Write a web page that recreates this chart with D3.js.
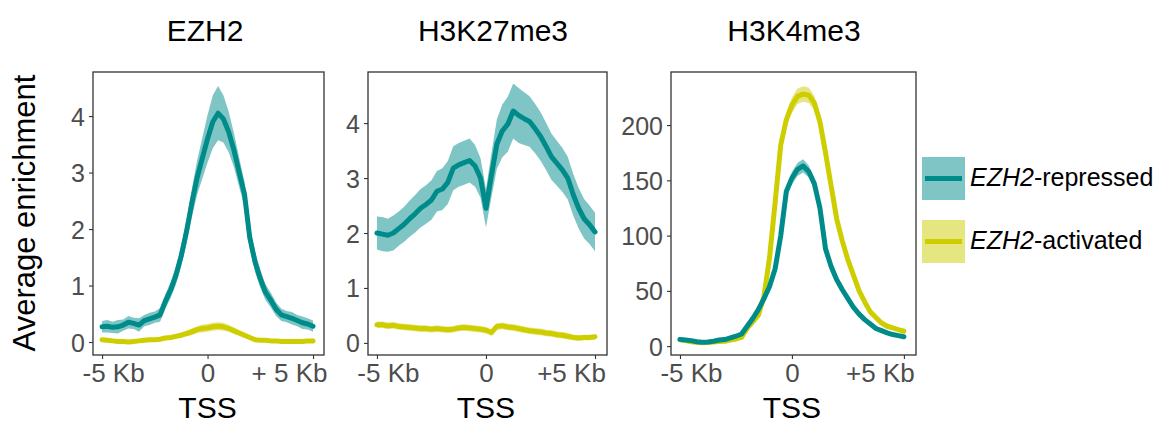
<!DOCTYPE html>
<html>
<head>
<meta charset="utf-8">
<script src="https://cdn.jsdelivr.net/npm/d3@7"></script>
<style>
  body { margin: 0; background: #fff; }
  svg { display: block; font-family: "Liberation Sans", Arial, sans-serif; }
</style>
</head>
<body>
<svg id="chart"></svg>
<script>
const WIDTH = 1167;
const HEIGHT = 424;

// Position relative to the TSS, in kb
const positions = [-5, -4.75, -4.5, -4.25, -4, -3.75, -3.5, -3.25, -3, -2.75, -2.5, -2.25, -2, -1.75, -1.5, -1.25, -1, -0.75, -0.5, -0.25,
  0, 0.25, 0.5, 0.75, 1, 1.25, 1.5, 1.75, 2, 2.25, 2.5, 2.75, 3, 3.25, 3.5, 3.75, 4, 4.25, 4.5, 4.75, 5];

const panelTitles = ["EZH2", "H3K27me3", "H3K4me3"];
const seriesNames = ["EZH2-repressed", "EZH2-activated"];
const xTickValues = [-5, 0, 5];
const xTickLabels = [
  ["-5 Kb", "0", "+ 5 Kb"],
  ["-5 Kb", "0", "+5 Kb"],
  ["-5 Kb", "0", "+5 Kb"]
];
const yTickValues = [
  [0, 1, 2, 3, 4],
  [0, 1, 2, 3, 4],
  [0, 50, 100, 150, 200]
];

// EZH2
const ezh2Repressed = [0.27, 0.28, 0.26, 0.27, 0.30, 0.35, 0.33, 0.30, 0.38, 0.41, 0.44, 0.48, 0.72, 0.92, 1.18, 1.52, 1.95, 2.45, 2.9, 3.25,
  3.6, 3.9, 4.05, 3.95, 3.72, 3.4, 3.0, 2.62, 1.85, 1.42, 1.12, 0.88, 0.74, 0.58, 0.48, 0.45, 0.42, 0.38, 0.34, 0.32, 0.28];
const ezh2RepressedSe = [0.1, 0.11, 0.1, 0.12, 0.1, 0.11, 0.1, 0.12, 0.1, 0.11, 0.1, 0.12, 0.13, 0.14, 0.16, 0.18, 0.2, 0.25, 0.3, 0.36,
  0.42, 0.47, 0.48, 0.42, 0.36, 0.3, 0.26, 0.22, 0.2, 0.18, 0.16, 0.14, 0.13, 0.12, 0.11, 0.1, 0.11, 0.1, 0.11, 0.1, 0.1];
const ezh2Activated = [0.04, 0.03, 0.02, 0.01, 0.01, 0.0, 0.01, 0.02, 0.03, 0.04, 0.04, 0.05, 0.07, 0.08, 0.1, 0.12, 0.15, 0.18, 0.22, 0.24,
  0.25, 0.27, 0.28, 0.27, 0.24, 0.2, 0.16, 0.12, 0.08, 0.04, 0.03, 0.03, 0.02, 0.02, 0.01, 0.01, 0.01, 0.01, 0.01, 0.02, 0.02];
const ezh2ActivatedSe = [0.03, 0.03, 0.03, 0.03, 0.03, 0.03, 0.03, 0.03, 0.03, 0.03, 0.03, 0.03, 0.03, 0.04, 0.04, 0.05, 0.05, 0.06, 0.06, 0.07,
  0.07, 0.07, 0.07, 0.07, 0.06, 0.06, 0.05, 0.05, 0.04, 0.04, 0.03, 0.03, 0.03, 0.03, 0.03, 0.03, 0.03, 0.03, 0.03, 0.03, 0.03];

// H3K27me3
const k27Repressed = [2.0, 1.98, 1.96, 2.0, 2.08, 2.16, 2.26, 2.35, 2.45, 2.52, 2.6, 2.76, 2.8, 2.92, 3.18, 3.24, 3.28, 3.32, 3.22, 3.0,
  2.45, 3.05, 3.62, 3.86, 3.98, 4.22, 4.14, 4.08, 4.03, 3.9, 3.76, 3.58, 3.39, 3.27, 3.15, 3.0, 2.7, 2.45, 2.26, 2.15, 2.02];
const k27RepressedSe = [0.3, 0.31, 0.3, 0.32, 0.31, 0.32, 0.33, 0.34, 0.35, 0.35, 0.36, 0.37, 0.38, 0.39, 0.4, 0.4, 0.4, 0.4, 0.38, 0.36,
  0.35, 0.4, 0.45, 0.48, 0.5, 0.5, 0.5, 0.48, 0.46, 0.45, 0.44, 0.43, 0.42, 0.41, 0.4, 0.39, 0.38, 0.37, 0.36, 0.35, 0.35];
const k27Activated = [0.33, 0.33, 0.31, 0.32, 0.3, 0.29, 0.28, 0.27, 0.26, 0.26, 0.25, 0.26, 0.25, 0.24, 0.25, 0.27, 0.28, 0.27, 0.26, 0.25,
  0.23, 0.19, 0.3, 0.31, 0.29, 0.28, 0.26, 0.24, 0.22, 0.21, 0.2, 0.18, 0.17, 0.15, 0.14, 0.12, 0.1, 0.09, 0.1, 0.1, 0.11];
const k27ActivatedSe = [0.06, 0.06, 0.06, 0.06, 0.06, 0.06, 0.06, 0.06, 0.06, 0.06, 0.06, 0.06, 0.06, 0.06, 0.06, 0.06, 0.06, 0.06, 0.06, 0.06,
  0.06, 0.06, 0.06, 0.06, 0.06, 0.06, 0.06, 0.06, 0.06, 0.06, 0.06, 0.06, 0.06, 0.06, 0.06, 0.06, 0.05, 0.05, 0.05, 0.05, 0.05];

// H3K4me3
const k4Repressed = [6, 5.5, 5, 4, 3.6, 3.8, 4.5, 5.5, 6, 7.5, 9, 11, 18, 25, 33, 43, 54, 70, 100, 140,
  152, 160, 163, 158, 147, 125, 88, 72, 60, 51, 43, 35, 29, 24, 20, 16, 14, 12, 10.5, 9.5, 8.5];
const k4RepressedSe = [1.5, 1.5, 1.5, 1.5, 1.5, 1.5, 1.5, 1.5, 1.5, 1.5, 1.5, 1.5, 1.8, 2, 2.2, 2.5, 3, 3.5, 4, 5,
  5.5, 6, 6, 5.5, 5, 4.5, 3.5, 3, 2.5, 2.2, 2, 2, 1.8, 1.8, 1.5, 1.5, 1.5, 1.5, 1.5, 1.5, 1.5];
const k4Activated = [6, 5, 4, 3.5, 3, 3.2, 3.8, 4.2, 4.5, 5.5, 6.5, 8, 16, 22, 28, 45, 80, 130, 182, 205,
  218, 226, 228, 227, 220, 203, 175, 145, 115, 95, 78, 64, 50, 40, 31, 26, 21, 18, 16.5, 15, 13.5];
const k4ActivatedSe = [1.5, 1.5, 1.5, 1.5, 1.5, 1.5, 1.5, 1.5, 1.5, 1.5, 1.5, 1.5, 1.8, 2, 2.2, 3, 4, 5, 6, 6.5,
  7, 7, 7, 7, 6.5, 6, 5, 4.5, 4, 3.5, 3, 2.5, 2.2, 2, 2, 2, 2, 1.8, 1.8, 1.5, 1.5];

const panelSeries = [
  [[ezh2Repressed, ezh2RepressedSe], [ezh2Activated, ezh2ActivatedSe]],
  [[k27Repressed, k27RepressedSe], [k27Activated, k27ActivatedSe]],
  [[k4Repressed, k4RepressedSe], [k4Activated, k4ActivatedSe]]
];

const lineColors = ["#008B8B", "#CDCD00"];
const fillColors = ["#80C5C5", "#E6E680"];

// Panel boxes (pixels) and domains
const panels = [
  { left: 93, right: 324, xDomain: [-5.43, 5.52], yDomain: [-0.23, 4.78], titleX: 205 },
  { left: 368, right: 607, xDomain: [-5.41, 5.55], yDomain: [-0.22, 4.93], titleX: 493 },
  { left: 671, right: 916, xDomain: [-5.4, 5.54], yDomain: [-8, 248], titleX: 794 }
];
const TOP = 72;
const BOTTOM = 355;
const xLabelShift = [11, 0, -24];

const svg = d3.select("#chart").attr("width", WIDTH).attr("height", HEIGHT);

panels.forEach((p, i) => {
  const x = d3.scaleLinear().domain(p.xDomain).range([p.left, p.right]);
  const y = d3.scaleLinear().domain(p.yDomain).range([BOTTOM, TOP]);
  const g = svg.append("g");

  const area = d3.area()
    .x((d, j) => x(positions[j]))
    .y0(d => y(d[0] - d[1]))
    .y1(d => y(d[0] + d[1]));
  const line = d3.line()
    .x((d, j) => x(positions[j]))
    .y(d => y(d));

  // ribbons first, then activated line, then repressed line on top
  [1, 0].forEach(s => {
    const [mean, se] = panelSeries[i][s];
    g.append("path")
      .datum(mean.map((m, j) => [m, se[j]]))
      .attr("d", area)
      .attr("fill", fillColors[s]);
  });
  [1, 0].forEach(s => {
    g.append("path")
      .datum(panelSeries[i][s][0])
      .attr("d", line)
      .attr("fill", "none")
      .attr("stroke", lineColors[s])
      .attr("stroke-width", 5)
      .attr("stroke-linejoin", "round")
      .attr("stroke-linecap", "round");
  });

  // frame
  g.append("rect")
    .attr("x", p.left).attr("y", TOP)
    .attr("width", p.right - p.left).attr("height", BOTTOM - TOP)
    .attr("fill", "none").attr("stroke", "#333").attr("stroke-width", 1.3);

  // y axis
  const yAxis = g.append("g")
    .attr("transform", `translate(${p.left},0)`)
    .call(d3.axisLeft(y).tickValues(yTickValues[i]).tickSize(4).tickPadding(4)
      .tickFormat(d3.format("d")));
  yAxis.select(".domain").remove();
  yAxis.selectAll(".tick line").attr("stroke", "#333").attr("stroke-width", 1.1);
  yAxis.selectAll(".tick text")
    .attr("fill", "#4D4D4D").attr("font-size", 25)
    .attr("font-family", "Liberation Sans, Arial, sans-serif")
    .attr("dy", "0.36em");

  // x axis
  const xAxis = g.append("g")
    .attr("transform", `translate(0,${BOTTOM})`)
    .call(d3.axisBottom(x).tickValues(xTickValues).tickSize(4).tickPadding(4)
      .tickFormat((d, j) => xTickLabels[i][j]));
  xAxis.select(".domain").remove();
  xAxis.selectAll(".tick line").attr("stroke", "#333").attr("stroke-width", 1.1);
  xAxis.selectAll(".tick text")
    .attr("fill", "#4D4D4D").attr("font-size", 26)
    .attr("font-family", "Liberation Sans, Arial, sans-serif")
    .attr("y", 27).attr("dy", 0)
    .attr("dx", (d, j) => xLabelShift[j]);

  // titles
  svg.append("text")
    .attr("x", p.titleX).attr("y", 41)
    .attr("text-anchor", "middle")
    .attr("font-size", 30)
    .text(panelTitles[i]);
  svg.append("text")
    .attr("x", x(0)).attr("y", 418)
    .attr("text-anchor", "middle")
    .attr("font-size", 30)
    .text("TSS");
});

svg.append("text")
  .attr("transform", "translate(35,213) rotate(-90)")
  .attr("text-anchor", "middle")
  .attr("font-size", 31)
  .text("Average enrichment");

// legend
const legend = svg.append("g");
const legendTops = [157, 220];
seriesNames.forEach((name, s) => {
  const top = legendTops[s];
  legend.append("rect")
    .attr("x", 922).attr("y", top).attr("width", 43).attr("height", 43)
    .attr("fill", fillColors[s]);
  legend.append("line")
    .attr("x1", 925).attr("x2", 962)
    .attr("y1", top + 21.5).attr("y2", top + 21.5)
    .attr("stroke", lineColors[s]).attr("stroke-width", 5);
  const label = legend.append("text")
    .attr("x", 970).attr("y", top + 29)
    .attr("font-size", 25);
  const parts = name.split("-");
  label.append("tspan").attr("font-style", "italic").text(parts[0]);
  label.append("tspan").text("-" + parts[1]);
});
</script>
</body>
</html>
